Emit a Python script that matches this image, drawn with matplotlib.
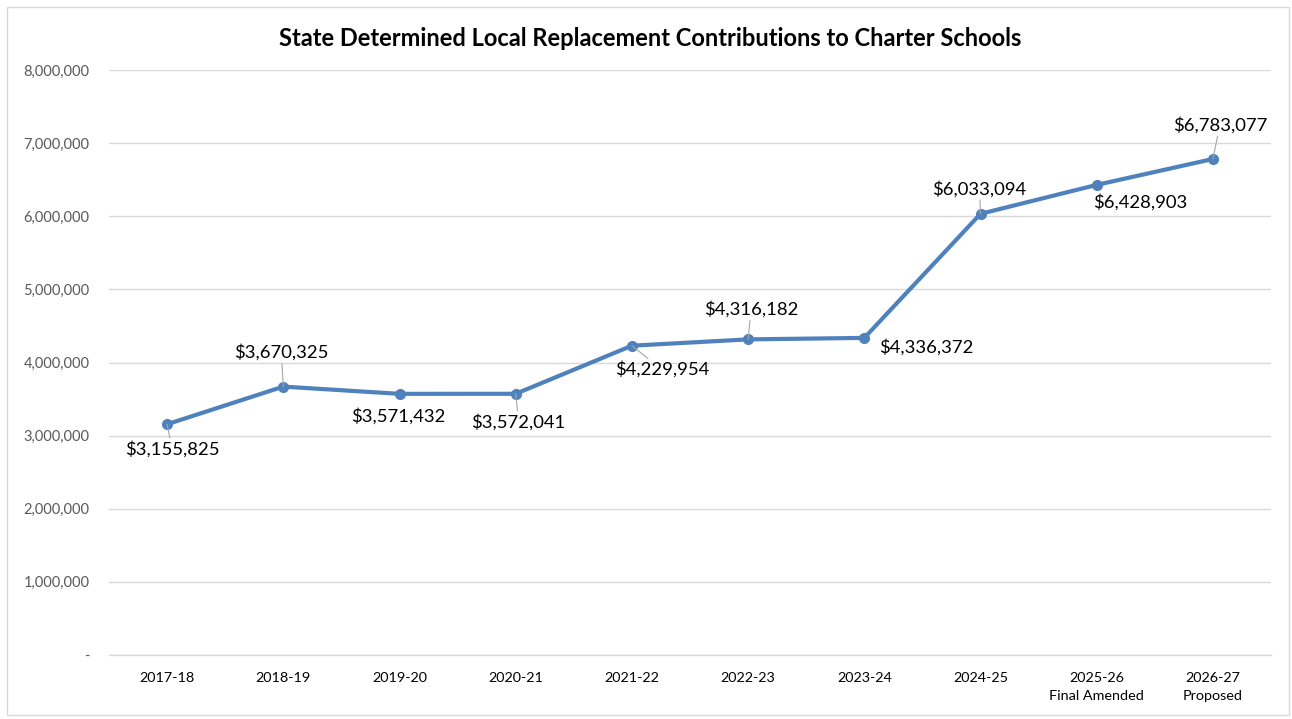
import matplotlib
matplotlib.use("Agg")
import matplotlib.pyplot as plt
from matplotlib.ticker import FuncFormatter
from matplotlib.patches import Rectangle

categories = ["2017-18", "2018-19", "2019-20", "2020-21", "2021-22", "2022-23",
              "2023-24", "2024-25", "2025-26\nFinal Amended", "2026-27\nProposed"]
values = [3155825, 3670325, 3571432, 3572041, 4229954, 4316182,
          4336372, 6033094, 6428903, 6783077]
# label offsets (pixels) relative to the data point, and whether a leader line is drawn
label_offsets = [(5, -25), (-2, 34), (-1, -22), (3, -28), (30, -24), (3, 30),
                 (62, -9), (-1, 25), (44, -17), (7, 34)]
leaders = [True, True, False, True, True, True, False, True, False, True]

title = "State Determined Local Replacement Contributions to Charter Schools"
yticks = [0, 1000000, 2000000, 3000000, 4000000, 5000000, 6000000, 7000000, 8000000]

plt.rcParams['font.family'] = ['Lato', 'DejaVu Sans']

fig = plt.figure(figsize=(12.92, 7.19), dpi=100)
ax = fig.add_axes([109/1292, 1-655/719, (1271-109)/1292, (655-70)/719])

line_color = "#4f81bd"
x = list(range(len(categories)))
ax.plot(x, values, color=line_color, lw=3.0, marker='o', markersize=7,
        markerfacecolor=line_color, markeredgecolor=line_color, zorder=3)

for xi, v, (dx, dy), ld in zip(x, values, label_offsets, leaders):
    ax.annotate(f"${v:,.0f}", xy=(xi, v), xytext=(dx, dy), textcoords='offset pixels',
                ha='center', va='center', fontsize=13.3, color='black',
                arrowprops=dict(arrowstyle='-', color='#a6a6a6', lw=0.8,
                                shrinkA=0, shrinkB=0) if ld else None,
                zorder=4)

ax.set_xlim(-0.5, len(categories) - 0.5)
ax.set_ylim(0, 8000000)
ax.set_yticks(yticks)
ax.yaxis.set_major_formatter(FuncFormatter(lambda v, p: "-" if v == 0 else f"{v:,.0f}"))
ax.set_xticks(x)
ax.set_xticklabels(categories, fontsize=10.4, color='black', linespacing=1.6)
ax.tick_params(axis='y', labelsize=10.5, labelcolor='#595959', length=0, pad=14)
ax.tick_params(axis='x', length=0, pad=12)
for lab in ax.get_xticklabels():
    lab.set_va('top')

ax.grid(axis='y', color='#d9d9d9', lw=1)
ax.set_axisbelow(True)
for s in ['top', 'right', 'left']:
    ax.spines[s].set_visible(False)
ax.spines['bottom'].set_color('#d9d9d9')
ax.spines['bottom'].set_linewidth(1)

fig.text(650/1292, 1-39/719, title, ha='center', va='center', fontsize=17,
         fontweight='bold', color='black')

fig.patches.append(Rectangle((7/1292, 4/719), 1282/1292, 708/719, transform=fig.transFigure,
                             fill=False, edgecolor='#d9d9d9', lw=1))

fig.savefig("out.png", dpi=100)
